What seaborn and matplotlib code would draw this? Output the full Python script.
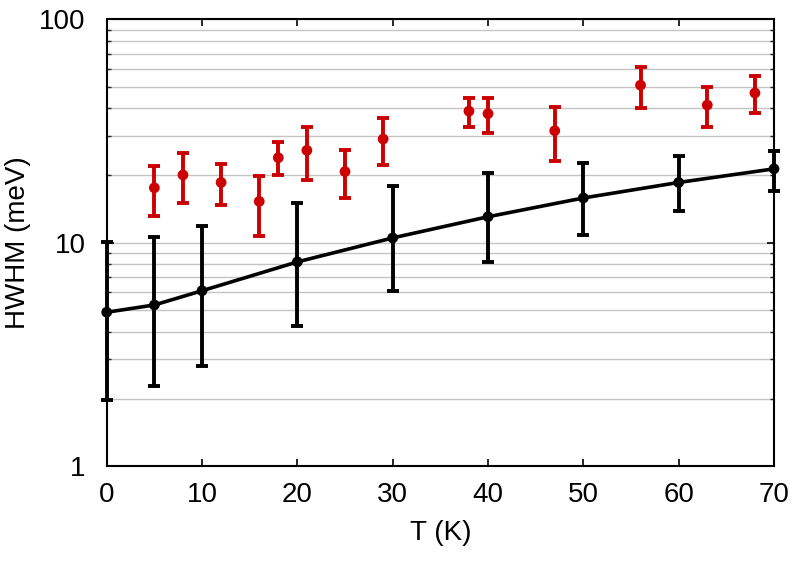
import numpy as np
import pandas as pd
import matplotlib
matplotlib.use("Agg")
import matplotlib.pyplot as plt
import matplotlib.ticker as mticker
import seaborn as sns

# Black series (with line)
black_T = [0, 5, 10, 20, 30, 40, 50, 60, 70]
black_hwhm = [4.88, 5.26, 6.09, 8.2, 10.5, 13.06, 15.85, 18.6, 21.4]
black_hi = [10.06, 10.6, 11.85, 15.0, 18.0, 20.5, 22.8, 24.5, 25.7]
black_lo = [1.97, 2.29, 2.81, 4.25, 6.07, 8.23, 10.8, 13.8, 17.0]

# Red series (points only)
red_T = [5, 8, 12, 16, 18, 21, 25, 29, 38, 40, 47, 56, 63, 68]
red_hwhm = [17.6, 20.1, 18.6, 15.3, 24.0, 25.9, 20.8, 29.1, 38.8, 37.8, 31.7, 50.7, 41.3, 46.8]
red_hi = [22.0, 25.2, 22.5, 19.9, 28.2, 32.9, 25.9, 36.2, 44.4, 44.4, 40.3, 61.4, 49.7, 56.0]
red_lo = [13.2, 15.1, 14.8, 10.7, 20.1, 19.1, 15.8, 22.2, 33.0, 30.9, 23.1, 39.9, 32.9, 37.9]

x_ticks = [0, 10, 20, 30, 40, 50, 60, 70]
y_ticks = [1, 10, 100]
y_tick_labels = ["1", "10", "100"]

sns.set_theme(style="white")
plt.rcParams["font.family"] = ["Liberation Sans", "DejaVu Sans"]
plt.rcParams["axes.labelcolor"] = "black"
plt.rcParams["text.color"] = "black"

fig = plt.figure(figsize=(7.99, 5.62), dpi=100)
ax = fig.add_axes([106.7 / 799, 1 - 466 / 562, (774 - 106.7) / 799, (466 - 19.3) / 562])

red_col = "#cc0000"
dfb = pd.DataFrame({"T": black_T, "H": black_hwhm})
dfr = pd.DataFrame({"T": red_T, "H": red_hwhm})

ax.set_yscale("log")
ax.set_xlim(0, 70)
ax.set_ylim(1, 100)

ax.yaxis.set_minor_locator(mticker.LogLocator(base=10, subs=np.arange(2, 10)))
ax.yaxis.set_minor_formatter(mticker.NullFormatter())
ax.set_yticks(y_ticks)
ax.set_yticklabels(y_tick_labels)
ax.set_xticks(x_ticks)
ax.grid(True, axis="y", which="both", color="#c4c4c4", lw=1.0, zorder=0)
ax.grid(False, axis="x")
ax.set_axisbelow(True)

# error bars
ax.errorbar(red_T, red_hwhm,
            yerr=[np.array(red_hwhm) - np.array(red_lo), np.array(red_hi) - np.array(red_hwhm)],
            fmt="none", ecolor=red_col, elinewidth=2.8, capsize=4.5, capthick=2.8, zorder=3)
ax.errorbar(black_T, black_hwhm,
            yerr=[np.array(black_hwhm) - np.array(black_lo), np.array(black_hi) - np.array(black_hwhm)],
            fmt="none", ecolor="black", elinewidth=2.8, capsize=4.5, capthick=2.8, zorder=3,
            clip_on=False)

sns.lineplot(data=dfb, x="T", y="H", color="black", lw=2.6, ax=ax, zorder=4)
sns.scatterplot(data=dfb, x="T", y="H", color="black", s=60, edgecolor="none", ax=ax, zorder=5, clip_on=False)
sns.scatterplot(data=dfr, x="T", y="H", color=red_col, s=60, edgecolor="none", ax=ax, zorder=5)

ax.set_xlabel("T (K)", fontsize=20, labelpad=9, color="black")
ax.set_ylabel("HWHM (meV)", fontsize=20, labelpad=6, color="black")

for sp in ax.spines.values():
    sp.set_color("black")
    sp.set_linewidth(1.5)
    sp.set_visible(True)

ax.tick_params(axis="both", which="major", direction="in", length=5, width=1.2,
               top=True, right=True, bottom=True, left=True, labelsize=20, colors="black")
ax.tick_params(axis="x", which="major", pad=11.5)
ax.tick_params(axis="y", which="major", pad=15)
ax.tick_params(axis="y", which="minor", direction="in", length=3, width=1.0, left=True, right=True)

fig.savefig("out.png", dpi=100)
